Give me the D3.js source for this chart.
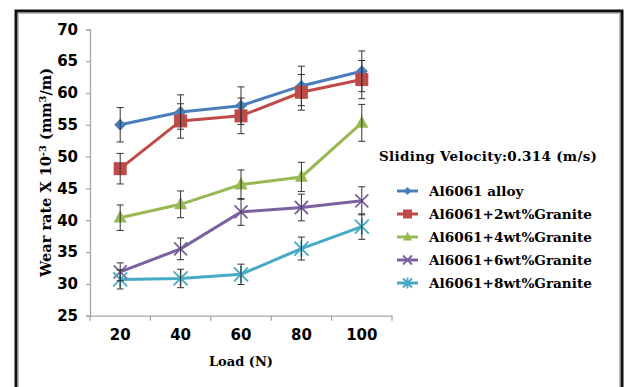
<!DOCTYPE html>
<html><head><meta charset="utf-8">
<script src="https://cdn.jsdelivr.net/npm/d3@7"></script>
<style>body{margin:0;background:#fff}svg{display:block}</style>
</head><body>
<svg id="c" width="625" height="387"></svg>
<script>
const loads = ["20","40","60","80","100"];
const seriesNames = ["Al6061 alloy","Al6061+2wt%Granite","Al6061+4wt%Granite","Al6061+6wt%Granite","Al6061+8wt%Granite"];
const alloy   = [55.0, 57.0, 58.0, 61.1, 63.4];
const gr2     = [48.1, 55.6, 56.4, 60.1, 62.1];
const gr4     = [40.4, 42.5, 45.6, 46.8, 55.3];
const gr6     = [31.9, 35.5, 41.3, 42.0, 43.05];
const gr8     = [30.7, 30.85, 31.5, 35.55, 39.0];
const errAlloy = [2.7, 2.7, 2.95, 3.1, 3.2];
const errGr2   = [2.4, 2.7, 2.8, 2.8, 3.0];
const errGr4   = [2.0, 2.1, 2.3, 2.3, 2.9];
const errGr6   = [1.4, 1.7, 2.1, 2.1, 2.2];
const errGr8   = [1.5, 1.45, 1.6, 1.8, 2.0];
const yTicks = [25,30,35,40,45,50,55,60,65,70];
const colors = ["#4a7ebb","#be4b48","#98b954","#7d60a0","#46aac5"];
const markers = ["diamond","square","triangle","x","star"];
const values = [alloy, gr2, gr4, gr6, gr8];
const errors = [errAlloy, errGr2, errGr4, errGr6, errGr8];

const svg = d3.select("#c");
// frame
svg.append("rect").attr("x",16).attr("y",11).attr("width",606).attr("height",420)
  .attr("fill","none").attr("stroke","#111").attr("stroke-width",3);
svg.append("rect").attr("x",18.5).attr("y",13.5).attr("width",601).attr("height",420)
  .attr("fill","none").attr("stroke","#bbb").attr("stroke-width",1);

const x = d3.scaleBand().domain(loads).range([90,392]);
const y = d3.scaleLinear().domain([25,70]).range([315.7,29.3]);

const axisColor = "#a6a6a6";
const gy = svg.append("g").attr("transform","translate(90,0)")
  .call(d3.axisLeft(y).tickValues(yTicks).tickSize(4).tickPadding(8).tickFormat(d3.format("d")));
const gx = svg.append("g").attr("transform","translate(0,315.7)")
  .call(d3.axisBottom(x).tickSize(0).tickPadding(14));
[gy,gx].forEach(g=>{
  g.select(".domain").attr("stroke",axisColor).attr("stroke-width",1.3);
  g.selectAll(".tick line").attr("stroke",axisColor).attr("stroke-width",1.3);
  g.selectAll("text").attr("font-family","DejaVu Sans, sans-serif")
   .attr("font-weight","bold").attr("font-size",15).attr("fill","#000");
});
// category boundary ticks on x axis
gx.selectAll(".bt").data(loads.concat(["end"])).enter().append("line")
  .attr("x1",(d,i)=> i<loads.length ? x(d) : x.range()[1])
  .attr("x2",(d,i)=> i<loads.length ? x(d) : x.range()[1])
  .attr("y1",0).attr("y2",5).attr("stroke",axisColor).attr("stroke-width",1.3);

// axis titles
const serif = "DejaVu Serif, serif";
svg.append("text").attr("x",241).attr("y",366).attr("text-anchor","middle")
  .attr("font-family",serif).attr("font-weight","bold").attr("font-size",13).text("Load (N)");
const yt = svg.append("text").attr("transform","translate(51,172.5) rotate(-90)")
  .attr("text-anchor","middle").attr("font-family",serif).attr("font-weight","bold").attr("font-size",14.5);
yt.append("tspan").text("Wear rate X 10");
yt.append("tspan").attr("font-size",10).attr("dy",-5).text("-3");
yt.append("tspan").attr("dy",5).text(" (mm");
yt.append("tspan").attr("font-size",10).attr("dy",-5).text("3");
yt.append("tspan").attr("dy",5).text("/m)");

const cx = d => x(d) + x.bandwidth()/2;

function drawMarker(g, type, color, px, py, s){
  if(type==="diamond"){
    g.append("path").attr("d",`M${px},${py-s}L${px+s},${py}L${px},${py+s}L${px-s},${py}Z`).attr("fill",color);
  } else if(type==="square"){
    g.append("rect").attr("x",px-s).attr("y",py-s).attr("width",2*s).attr("height",2*s).attr("fill",color);
  } else if(type==="triangle"){
    g.append("path").attr("d",`M${px},${py-s*1.15}L${px+s},${py+s*0.75}L${px-s},${py+s*0.75}Z`).attr("fill",color);
  } else if(type==="x"){
    g.append("path").attr("d",`M${px-s},${py-s}L${px+s},${py+s}M${px-s},${py+s}L${px+s},${py-s}`)
      .attr("stroke",color).attr("stroke-width",1.8).attr("fill","none");
  } else if(type==="star"){
    g.append("path").attr("d",`M${px-s},${py-s}L${px+s},${py+s}M${px-s},${py+s}L${px+s},${py-s}M${px},${py-s*1.2}L${px},${py+s*1.2}`)
      .attr("stroke",color).attr("stroke-width",1.8).attr("fill","none");
  }
}

const line = d3.line().x((d,i)=>cx(loads[i])).y(d=>y(d));
values.forEach((vals,si)=>{
  const g = svg.append("g");
  g.append("path").datum(vals).attr("d",line).attr("fill","none")
    .attr("stroke",colors[si]).attr("stroke-width",3);
});
// markers
const markerSize = [6, 6.5, 6.5, 6.5, 7];
values.forEach((vals,si)=>{
  const g = svg.append("g");
  vals.forEach((v,i)=> drawMarker(g, markers[si], colors[si], cx(loads[i]), y(v), markerSize[si]));
});
// error bars
values.forEach((vals,si)=>{
  const g = svg.append("g").attr("stroke","#333").attr("stroke-width",1);
  vals.forEach((v,i)=>{
    const px = cx(loads[i]), e = errors[si][i];
    g.append("line").attr("x1",px).attr("x2",px).attr("y1",y(v+e)).attr("y2",y(v-e));
    g.append("line").attr("x1",px-3.5).attr("x2",px+3.5).attr("y1",y(v+e)).attr("y2",y(v+e));
    g.append("line").attr("x1",px-3.5).attr("x2",px+3.5).attr("y1",y(v-e)).attr("y2",y(v-e));
  });
});

// legend
svg.append("text").attr("x",379).attr("y",161).attr("font-family",serif).attr("font-weight","bold")
  .attr("font-size",13.5).attr("textLength",218).attr("lengthAdjust","spacing").text("Sliding Velocity:0.314 (m/s)");
const lg = svg.append("g");
seriesNames.forEach((n,i)=>{
  const ly = 191 + i*23;
  lg.append("line").attr("x1",397).attr("x2",418).attr("y1",ly).attr("y2",ly)
    .attr("stroke",colors[i]).attr("stroke-width",3);
  drawMarker(lg, markers[i], colors[i], 407.5, ly, [4,4.5,4.5,4.5,4.5][i]);
  lg.append("text").attr("x",429).attr("y",ly+5).attr("font-family",serif).attr("font-weight","bold")
    .attr("font-size",13.6).text(n);
});
</script>
</body></html>
